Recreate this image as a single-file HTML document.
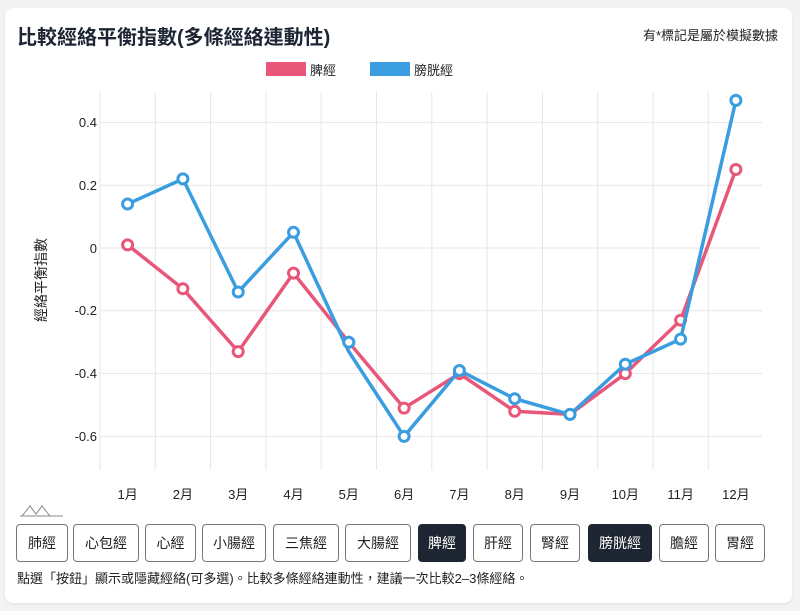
<!DOCTYPE html>
<html><head><meta charset="utf-8"><style>
body{margin:0;width:800px;height:611px;background:#f3f3f3;font-family:"Liberation Sans","Noto Sans CJK TC",sans-serif;overflow:hidden}
.card{position:absolute;left:5px;top:8px;width:787px;height:595px;background:#fff;border-radius:8px;box-shadow:0 1px 3px rgba(0,0,0,.08)}
.b{position:absolute;top:524px;height:38px;border:1px solid #777;border-radius:4px;background:#fff;font-size:14px;color:#222;display:flex;align-items:center;justify-content:center;box-sizing:border-box}
.b.on{background:#1f2633;color:#fff;border-color:#1f2633}
</style></head><body>
<div class="card"></div>
<div style="position:absolute;left:17px;top:21px;font-size:20px;font-weight:bold;color:#1d2433">比較經絡平衡指數(多條經絡連動性)</div>
<div style="position:absolute;right:22px;top:25px;font-size:13px;color:#222">有*標記是屬於模擬數據</div>
<svg width="800" height="611" style="position:absolute;left:0;top:0" font-family="Liberation Sans, Noto Sans CJK TC, sans-serif">
<rect x="266" y="62" width="40" height="14" fill="#e8577a"/>
<text x="310" y="75" font-size="13" fill="#222">脾經</text>
<rect x="370" y="62" width="40" height="14" fill="#3a9de0"/>
<text x="414" y="75" font-size="13" fill="#222">膀胱經</text>
<g stroke="#e6e6e6" stroke-width="1">
<line x1="100" y1="92" x2="100" y2="470"/><line x1="155.3" y1="92" x2="155.3" y2="470"/><line x1="210.6" y1="92" x2="210.6" y2="470"/><line x1="265.9" y1="92" x2="265.9" y2="470"/><line x1="321.2" y1="92" x2="321.2" y2="470"/><line x1="376.5" y1="92" x2="376.5" y2="470"/><line x1="431.8" y1="92" x2="431.8" y2="470"/><line x1="487.1" y1="92" x2="487.1" y2="470"/><line x1="542.4" y1="92" x2="542.4" y2="470"/><line x1="597.7" y1="92" x2="597.7" y2="470"/><line x1="653" y1="92" x2="653" y2="470"/><line x1="708.3" y1="92" x2="708.3" y2="470"/>
<line x1="100" y1="122.4" x2="762" y2="122.4"/><line x1="100" y1="185.2" x2="762" y2="185.2"/><line x1="100" y1="248" x2="762" y2="248"/><line x1="100" y1="310.8" x2="762" y2="310.8"/><line x1="100" y1="373.6" x2="762" y2="373.6"/><line x1="100" y1="436.4" x2="762" y2="436.4"/>
</g>
<g font-size="13" fill="#222" text-anchor="end">
<text x="97" y="127">0.4</text><text x="97" y="190">0.2</text><text x="97" y="253">0</text><text x="97" y="315">-0.2</text><text x="97" y="378">-0.4</text><text x="97" y="441">-0.6</text>
</g>
<text transform="translate(46,280) rotate(-90)" font-size="14" fill="#222" text-anchor="middle">經絡平衡指數</text>
<g font-size="13" fill="#222" text-anchor="middle">
<text x="127.6" y="499">1月</text><text x="182.9" y="499">2月</text><text x="238.2" y="499">3月</text><text x="293.5" y="499">4月</text><text x="348.8" y="499">5月</text><text x="404.1" y="499">6月</text><text x="459.4" y="499">7月</text><text x="514.7" y="499">8月</text><text x="570" y="499">9月</text><text x="625.3" y="499">10月</text><text x="680.6" y="499">11月</text><text x="735.9" y="499">12月</text>
</g>
<polyline fill="none" stroke="#e8577a" stroke-width="3.5" points="127.6,244.9 182.9,288.8 238.2,351.6 293.5,273.1 348.8,342.2 404.1,408.1 459.4,373.6 514.7,411.3 570,414.4 625.3,373.6 680.6,320.2 735.9,169.5"/>
<g fill="#fff" stroke="#e8577a" stroke-width="3">
<circle cx="127.6" cy="244.9" r="5"/><circle cx="182.9" cy="288.8" r="5"/><circle cx="238.2" cy="351.6" r="5"/><circle cx="293.5" cy="273.1" r="5"/><circle cx="348.8" cy="342.2" r="5"/><circle cx="404.1" cy="408.1" r="5"/><circle cx="459.4" cy="373.6" r="5"/><circle cx="514.7" cy="411.3" r="5"/><circle cx="570" cy="414.4" r="5"/><circle cx="625.3" cy="373.6" r="5"/><circle cx="680.6" cy="320.2" r="5"/><circle cx="735.9" cy="169.5" r="5"/>
</g>
<polyline fill="none" stroke="#3a9de0" stroke-width="3.5" points="127.6,204 182.9,178.9 238.2,292 293.5,232.3 348.8,351.6 404.1,436.4 459.4,370.5 514.7,398.7 570,414.4 625.3,364.2 680.6,339.1 735.9,100.4"/>
<g fill="#fff" stroke="#3a9de0" stroke-width="3">
<circle cx="127.6" cy="204" r="5"/><circle cx="182.9" cy="178.9" r="5"/><circle cx="238.2" cy="292" r="5"/><circle cx="293.5" cy="232.3" r="5"/><circle cx="348.8" cy="342.2" r="5"/><circle cx="404.1" cy="436.4" r="5"/><circle cx="459.4" cy="370.5" r="5"/><circle cx="514.7" cy="398.7" r="5"/><circle cx="570" cy="414.4" r="5"/><circle cx="625.3" cy="364.2" r="5"/><circle cx="680.6" cy="339.1" r="5"/><circle cx="735.9" cy="100.4" r="5"/>
</g>
<path d="M22 516 L30 506 L36 514 L42 506 L50 516 M20 516 L63 516" fill="none" stroke="#888" stroke-width="1"/>
</svg>
<div class="b" style="left:16px;width:52px">肺經</div>
<div class="b" style="left:73px;width:66px">心包經</div>
<div class="b" style="left:145px;width:51px">心經</div>
<div class="b" style="left:202px;width:64px">小腸經</div>
<div class="b" style="left:273px;width:66px">三焦經</div>
<div class="b" style="left:345px;width:66px">大腸經</div>
<div class="b on" style="left:418px;width:48px">脾經</div>
<div class="b" style="left:473px;width:50px">肝經</div>
<div class="b" style="left:530px;width:50px">腎經</div>
<div class="b on" style="left:588px;width:64px">膀胱經</div>
<div class="b" style="left:659px;width:50px">膽經</div>
<div class="b" style="left:715px;width:50px">胃經</div>
<div style="position:absolute;left:17px;top:568px;font-size:13px;color:#222">點選「按鈕」顯示或隱藏經絡(可多選)。比較多條經絡連動性，建議一次比較2–3條經絡。</div>
</body></html>
